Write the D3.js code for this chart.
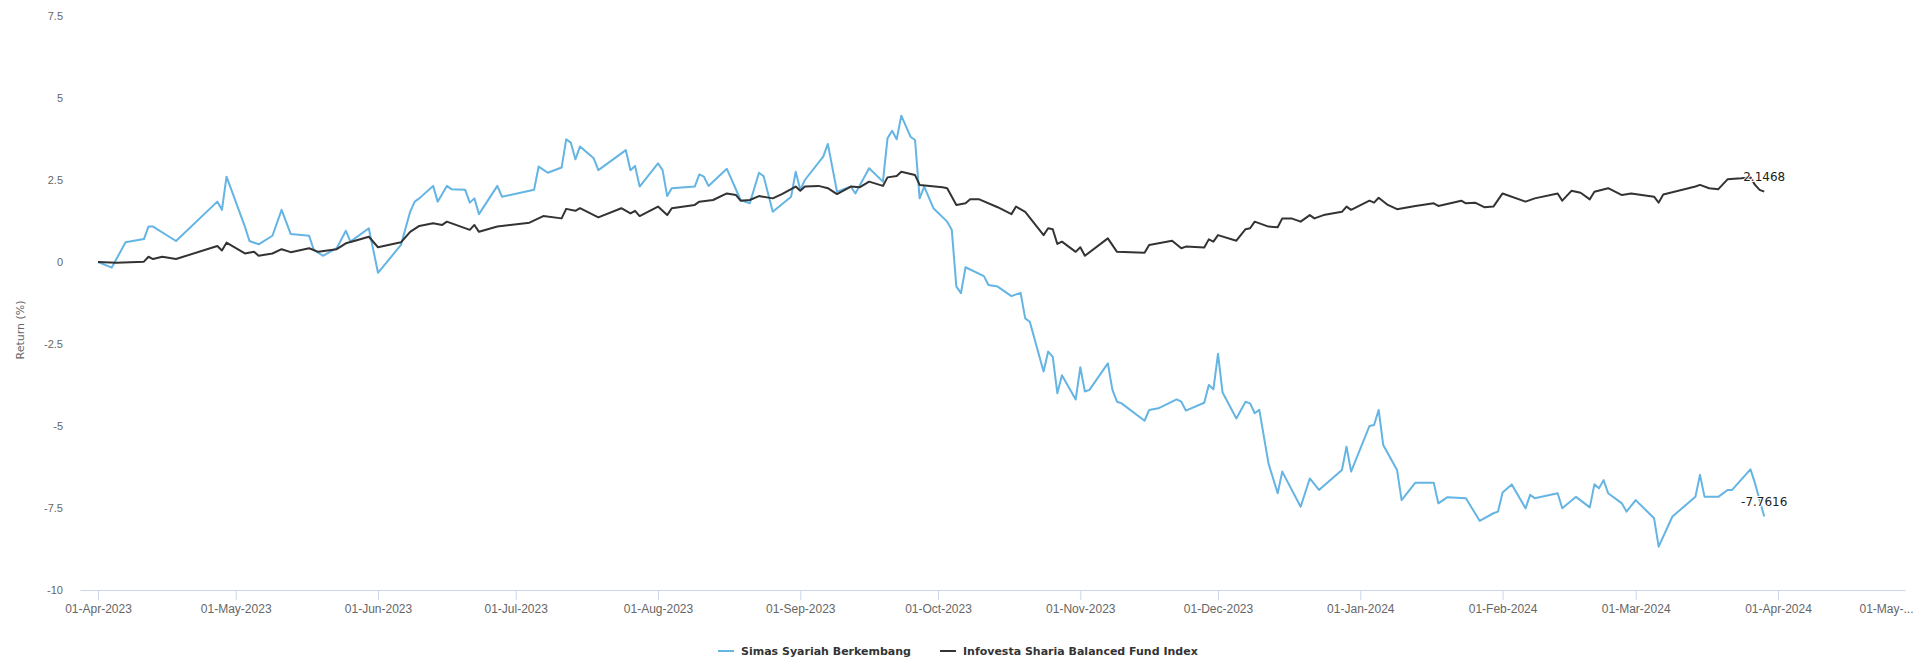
<!DOCTYPE html>
<html>
<head>
<meta charset="utf-8">
<script src="https://cdn.jsdelivr.net/npm/d3@7"></script>
<style>
  body { margin: 0; background: #fff; }
  svg { display: block; font-family: "DejaVu Sans", sans-serif; }
</style>
</head>
<body>
<svg width="1915" height="662"></svg>
<script>
var seriesNames = ["Simas Syariah Berkembang", "Infovesta Sharia Balanced Fund Index"];
var seriesColors = ["#64b4e4", "#333333"];
var yTicks = [-10, -7.5, -5, -2.5, 0, 2.5, 5, 7.5];
var yTitle = "Return (%)";

// Simas Syariah Berkembang, cumulative return (%)
var fundDates = [
  "2023-04-01","2023-04-04","2023-04-07","2023-04-11","2023-04-12","2023-04-13","2023-04-18","2023-04-27","2023-04-28","2023-04-29",
  "2023-05-03","2023-05-04","2023-05-06","2023-05-09","2023-05-11","2023-05-13","2023-05-17","2023-05-18","2023-05-20","2023-05-23","2023-05-25","2023-05-26","2023-05-30",
  "2023-06-01","2023-06-06","2023-06-08","2023-06-09","2023-06-10","2023-06-13","2023-06-14","2023-06-16","2023-06-17","2023-06-20","2023-06-21","2023-06-22","2023-06-23","2023-06-27","2023-06-28",
  "2023-07-05","2023-07-06","2023-07-08","2023-07-11","2023-07-12","2023-07-13","2023-07-14","2023-07-15","2023-07-18","2023-07-19","2023-07-25","2023-07-26","2023-07-27","2023-07-28",
  "2023-08-01","2023-08-02","2023-08-03","2023-08-04","2023-08-09","2023-08-10","2023-08-11","2023-08-12","2023-08-16","2023-08-19","2023-08-21","2023-08-23","2023-08-24","2023-08-26","2023-08-30","2023-08-31",
  "2023-09-01","2023-09-02","2023-09-06","2023-09-07","2023-09-09","2023-09-12","2023-09-13","2023-09-16","2023-09-19","2023-09-20","2023-09-21","2023-09-22","2023-09-23","2023-09-25","2023-09-26","2023-09-27","2023-09-28","2023-09-30",
  "2023-10-03","2023-10-04","2023-10-05","2023-10-06","2023-10-07","2023-10-11","2023-10-12","2023-10-14","2023-10-17","2023-10-19","2023-10-20","2023-10-21","2023-10-24","2023-10-25","2023-10-26","2023-10-27","2023-10-28","2023-10-31",
  "2023-11-01","2023-11-02","2023-11-03","2023-11-07","2023-11-08","2023-11-09","2023-11-10","2023-11-15","2023-11-16","2023-11-18","2023-11-22","2023-11-23","2023-11-24","2023-11-28","2023-11-29","2023-11-30",
  "2023-12-01","2023-12-02","2023-12-05","2023-12-07","2023-12-08","2023-12-09","2023-12-10","2023-12-12","2023-12-14","2023-12-15","2023-12-19","2023-12-21","2023-12-23","2023-12-28","2023-12-29","2023-12-30",
  "2024-01-03","2024-01-04","2024-01-05","2024-01-06","2024-01-09","2024-01-10","2024-01-13","2024-01-17","2024-01-18","2024-01-20","2024-01-24","2024-01-27","2024-01-30","2024-01-31",
  "2024-02-01","2024-02-03","2024-02-06","2024-02-07","2024-02-08","2024-02-13","2024-02-14","2024-02-17","2024-02-20","2024-02-21","2024-02-22","2024-02-23","2024-02-24","2024-02-27","2024-02-28",
  "2024-03-01","2024-03-05","2024-03-06","2024-03-09","2024-03-14","2024-03-15","2024-03-16","2024-03-19","2024-03-21","2024-03-22","2024-03-26","2024-03-27","2024-03-29"
];
var fundValues = [
  0, -0.17, 0.60, 0.70, 1.08, 1.08, 0.64, 1.84, 1.59, 2.60,
  1.08, 0.64, 0.54, 0.80, 1.59, 0.85, 0.80, 0.37, 0.19, 0.42, 0.95, 0.62, 1.03,
  -0.33, 0.52, 1.53, 1.84, 1.94, 2.32, 1.84, 2.32, 2.22, 2.20, 1.81, 1.94, 1.46, 2.32, 1.99,
  2.20, 2.91, 2.72, 2.88, 3.74, 3.64, 3.13, 3.52, 3.16, 2.80, 3.41, 2.80, 2.93, 2.30,
  3.01, 2.80, 2.01, 2.25, 2.30, 2.67, 2.60, 2.32, 2.84, 1.89, 1.79, 2.72, 2.62, 1.53, 1.99, 2.75,
  2.20, 2.50, 3.21, 3.60, 2.14, 2.30, 2.09, 2.86, 2.45, 3.77, 4.00, 3.74, 4.46, 3.82, 3.72, 1.94, 2.30, 1.64,
  1.23, 0.98, -0.75, -0.95, -0.16, -0.43, -0.70, -0.75, -1.04, -0.94, -1.72, -1.82, -3.34, -2.73, -2.89, -4.00, -3.45, -4.19,
  -3.21, -3.95, -3.90, -3.09, -3.90, -4.26, -4.31, -4.84, -4.51, -4.46, -4.19, -4.26, -4.53, -4.29, -3.75, -3.88,
  -2.80, -3.98, -4.77, -4.26, -4.31, -4.61, -4.51, -6.14, -7.05, -6.39, -7.46, -6.60, -6.95, -6.34, -5.63, -6.39,
  -5.00, -4.97, -4.51, -5.58, -6.34, -7.26, -6.73, -6.73, -7.36, -7.17, -7.20, -7.89, -7.66, -7.61,
  -7.03, -6.78, -7.51, -7.10, -7.20, -7.05, -7.51, -7.16, -7.48, -6.78, -6.90, -6.65, -7.05, -7.36, -7.61,
  -7.26, -7.81, -8.68, -7.76, -7.16, -6.49, -7.16, -7.16, -6.95, -6.95, -6.32, -6.75, -7.7616
];

// Infovesta Sharia Balanced Fund Index, cumulative return (%)
var indexDates = [
  "2023-04-01","2023-04-05","2023-04-11","2023-04-12","2023-04-13","2023-04-15","2023-04-18","2023-04-27","2023-04-28","2023-04-29",
  "2023-05-03","2023-05-05","2023-05-06","2023-05-09","2023-05-11","2023-05-13","2023-05-17","2023-05-19","2023-05-23","2023-05-25","2023-05-27","2023-05-30",
  "2023-06-01","2023-06-06","2023-06-08","2023-06-10","2023-06-13","2023-06-15","2023-06-16","2023-06-21","2023-06-22","2023-06-23","2023-06-27",
  "2023-07-04","2023-07-07","2023-07-11","2023-07-12","2023-07-14","2023-07-15","2023-07-19","2023-07-24","2023-07-26","2023-07-27","2023-07-28",
  "2023-08-01","2023-08-03","2023-08-04","2023-08-09","2023-08-10","2023-08-13","2023-08-16","2023-08-18","2023-08-19","2023-08-21","2023-08-23","2023-08-26","2023-08-28","2023-08-31",
  "2023-09-01","2023-09-02","2023-09-05","2023-09-07","2023-09-09","2023-09-12","2023-09-14","2023-09-16","2023-09-19","2023-09-20","2023-09-22","2023-09-23","2023-09-26","2023-09-27",
  "2023-10-02","2023-10-03","2023-10-05","2023-10-07","2023-10-08","2023-10-10","2023-10-14","2023-10-17","2023-10-18","2023-10-20","2023-10-24","2023-10-25","2023-10-26","2023-10-27","2023-10-28","2023-10-31",
  "2023-11-01","2023-11-02","2023-11-07","2023-11-09","2023-11-15","2023-11-16","2023-11-21","2023-11-23","2023-11-24","2023-11-28","2023-11-29","2023-11-30",
  "2023-12-01","2023-12-05","2023-12-07","2023-12-08","2023-12-09","2023-12-12","2023-12-14","2023-12-15","2023-12-17","2023-12-19","2023-12-21","2023-12-22","2023-12-24","2023-12-28","2023-12-29","2023-12-30",
  "2024-01-03","2024-01-04","2024-01-05","2024-01-07","2024-01-09","2024-01-13","2024-01-17","2024-01-18","2024-01-23","2024-01-24","2024-01-26","2024-01-28","2024-01-30",
  "2024-02-01","2024-02-06","2024-02-08","2024-02-13","2024-02-14","2024-02-16","2024-02-18","2024-02-20","2024-02-21","2024-02-24","2024-02-27","2024-02-29",
  "2024-03-05","2024-03-06","2024-03-07","2024-03-14","2024-03-15","2024-03-17","2024-03-19","2024-03-21","2024-03-24","2024-03-26","2024-03-27","2024-03-28","2024-03-29"
];
var indexValues = [
  0, -0.02, 0.01, 0.16, 0.09, 0.16, 0.09, 0.49, 0.35, 0.59,
  0.26, 0.31, 0.19, 0.26, 0.39, 0.30, 0.42, 0.31, 0.39, 0.57, 0.65, 0.77,
  0.45, 0.60, 0.92, 1.10, 1.18, 1.13, 1.23, 0.98, 1.13, 0.92, 1.08,
  1.20, 1.40, 1.33, 1.62, 1.56, 1.64, 1.36, 1.64, 1.48, 1.56, 1.40,
  1.69, 1.43, 1.64, 1.74, 1.84, 1.89, 2.09, 2.04, 1.87, 1.89, 2.01, 1.94, 2.07, 2.30,
  2.17, 2.30, 2.32, 2.25, 2.07, 2.30, 2.28, 2.45, 2.32, 2.58, 2.62, 2.75, 2.65, 2.35,
  2.28, 2.25, 1.74, 1.79, 1.91, 1.91, 1.67, 1.46, 1.69, 1.53, 0.82, 1.03, 1.00, 0.55, 0.62, 0.31,
  0.45, 0.19, 0.72, 0.31, 0.28, 0.52, 0.65, 0.42, 0.47, 0.44, 0.69, 0.62,
  0.82, 0.65, 1.00, 1.03, 1.23, 1.08, 1.06, 1.33, 1.33, 1.23, 1.43, 1.33, 1.43, 1.53, 1.69, 1.59,
  1.87, 1.81, 1.96, 1.74, 1.61, 1.71, 1.79, 1.71, 1.87, 1.79, 1.81, 1.67, 1.69,
  2.09, 1.84, 1.94, 2.09, 1.87, 2.17, 2.11, 1.91, 2.14, 2.25, 2.04, 2.09,
  1.99, 1.81, 2.06, 2.30, 2.35, 2.25, 2.22, 2.52, 2.55, 2.58, 2.35, 2.20, 2.1468
];

var svg = d3.select("svg"),
    W = +svg.attr("width"),
    H = +svg.attr("height");

var plot = { left: 80, right: 1905, top: 16, bottom: 590 };
var parse = d3.utcParse("%Y-%m-%d");

function toSeries(dates, values) {
  return dates.map(function (d, i) { return { date: parse(d), value: values[i] }; });
}
var series = [toSeries(fundDates, fundValues), toSeries(indexDates, indexValues)];

// month ticks: 1 Apr 2023 sits at 98px, 1 Apr 2024 at 1778px
var anchor = d3.scaleUtc().domain([parse("2023-04-01"), parse("2024-04-01")]).range([98, 1778]);
var x = d3.scaleUtc().domain([anchor.invert(plot.left), anchor.invert(plot.right)]).range([plot.left, plot.right]);
var y = d3.scaleLinear().domain([-10, 7.5]).range([plot.bottom, plot.top]);

// x axis
var xTicks = d3.utcMonth.range(parse("2023-04-01"), parse("2024-05-02"));
var xAxis = svg.append("g")
  .attr("transform", "translate(0," + plot.bottom + ")")
  .call(d3.axisBottom(x).tickValues(xTicks).tickFormat(d3.utcFormat("%d-%b-%Y")).tickSize(10).tickSizeOuter(0).tickPadding(4));
xAxis.select(".domain").attr("stroke", "#ccd6eb");
xAxis.selectAll(".tick line").attr("stroke", "#ccd6eb");
xAxis.selectAll(".tick text").attr("fill", "#666").attr("font-size", 12);

// a label that runs off the right edge is cut short, like the original
xAxis.selectAll(".tick text").each(function () {
  var tx = x(d3.select(this).datum());
  if (tx + this.getComputedTextLength() / 2 > W) {
    var t = d3.select(this);
    t.text(t.text().slice(0, 7) + "...").attr("text-anchor", "end").attr("x", W - 2 - tx);
  }
});

// y axis
var yAxis = svg.append("g")
  .attr("transform", "translate(" + plot.left + ",0)")
  .call(d3.axisLeft(y).tickValues(yTicks).tickSize(0).tickPadding(17).tickFormat(function (d) { return String(d); }));
yAxis.select(".domain").remove();
yAxis.selectAll(".tick text").attr("fill", "#666").attr("font-size", 11);

svg.append("text")
  .attr("transform", "translate(24,330) rotate(-90)")
  .attr("text-anchor", "middle")
  .attr("fill", "#666")
  .attr("font-size", 11)
  .text(yTitle);

// lines
var line = d3.line()
  .x(function (d) { return x(d.date); })
  .y(function (d) { return y(d.value); });

series.forEach(function (s, i) {
  svg.append("path")
    .datum(s)
    .attr("fill", "none")
    .attr("stroke", seriesColors[i])
    .attr("stroke-width", 2)
    .attr("stroke-linejoin", "round")
    .attr("d", line);
});

// last value labels
series.forEach(function (s) {
  var last = s[s.length - 1];
  svg.append("text")
    .attr("x", x(last.date))
    .attr("y", y(last.value) - 11)
    .attr("text-anchor", "middle")
    .attr("font-size", 12)
    .attr("fill", "#222")
    .attr("stroke", "#fff")
    .attr("stroke-width", 2)
    .attr("paint-order", "stroke")
    .text(String(last.value));
});

// legend, centred under the chart
var legend = svg.append("g");
var lx = 0;
seriesNames.forEach(function (name, i) {
  var item = legend.append("g").attr("transform", "translate(" + lx + ",0)");
  item.append("line")
    .attr("x1", 0).attr("x2", 16).attr("y1", 0).attr("y2", 0)
    .attr("stroke", seriesColors[i]).attr("stroke-width", 2);
  var t = item.append("text")
    .attr("x", 23).attr("dy", "0.35em")
    .attr("font-size", 11).attr("font-weight", "bold")
    .attr("fill", "#333")
    .text(name);
  lx += 23 + t.node().getComputedTextLength() + (i < seriesNames.length - 1 ? 29 : 0);
});
legend.attr("transform", "translate(" + Math.round((W - lx) / 2) + ",651)");
</script>
</body>
</html>
